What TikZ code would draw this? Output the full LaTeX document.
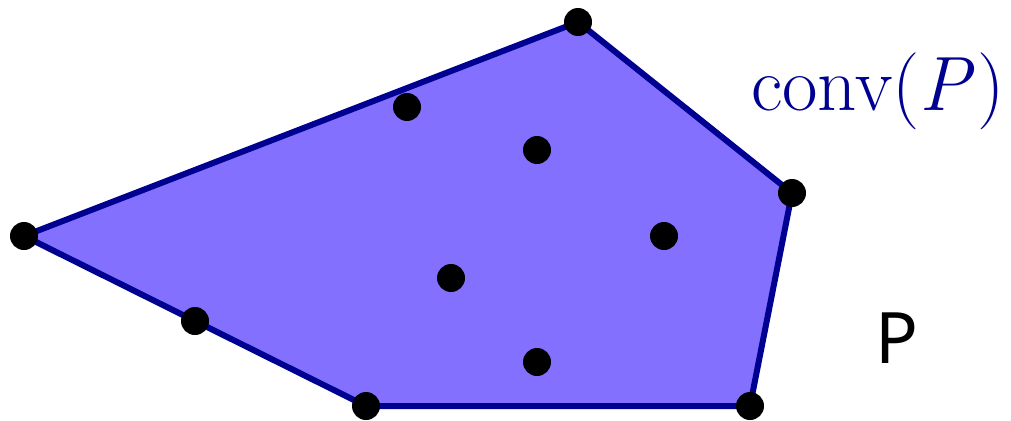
\documentclass[tikz,border=0pt]{standalone}
\usepackage{fontspec}
\newfontfamily\labelsans{Noto Sans}
\definecolor{hullfill}{RGB}{132,112,255}
\definecolor{hullline}{RGB}{0,0,145}
\begin{document}
\begin{tikzpicture}[x=1pt,y=-1pt,
  pt/.style={circle,fill=black,inner sep=0pt,minimum size=28pt},
  hull/.style={draw=hullline,fill=hullfill,line width=6pt,line join=round}]
\useasboundingbox (0,0) rectangle (1011,420);
\coordinate (A) at (578,22);
\coordinate (B) at (792,193);
\coordinate (C) at (750,406);
\coordinate (D) at (366,406);
\coordinate (E) at (24,236);
\filldraw[hull] (A) -- (B) -- (C) -- (D) -- (E) -- cycle;
\node[pt] (pA) at (A) {};
\node[pt] (pB) at (B) {};
\node[pt] (pC) at (C) {};
\node[pt] (pD) at (D) {};
\node[pt] (pE) at (E) {};
\node[pt] (p1) at (195,321) {};
\node[pt] (p2) at (407,107) {};
\node[pt] (p3) at (537,150) {};
\node[pt] (p4) at (664,236) {};
\node[pt] (p5) at (451,278) {};
\node[pt] (p6) at (537,362) {};
\node[anchor=base,text=hullline,inner sep=0pt,font=\fontsize{77}{84}\selectfont] (conv) at (878,110) {conv(\textit{P}\kern0.04em)};
\node[anchor=base,inner sep=0pt,font=\labelsans\fontsize{71}{80}\selectfont] (P) at (897,363) {P};
\end{tikzpicture}
\end{document}
